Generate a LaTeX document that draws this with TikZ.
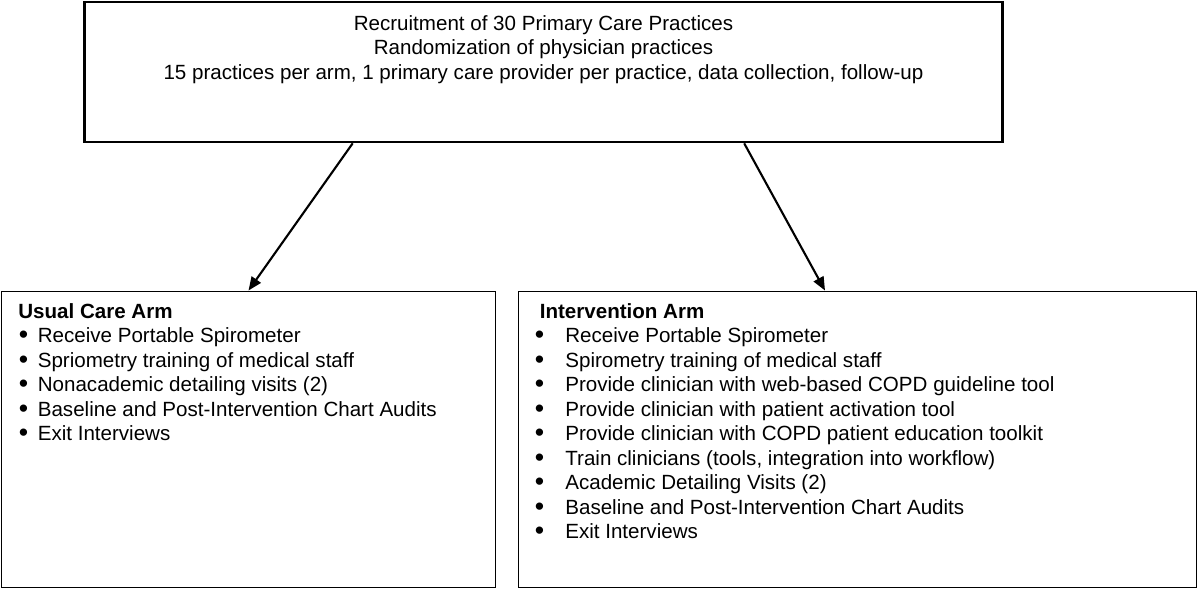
\documentclass[tikz,border=0pt]{standalone}
\usepackage{fontspec}
\setmainfont{Liberation Sans}
\usetikzlibrary{arrows.meta,calc}

\tikzset{
  box/.style={draw, line width=1.1pt, inner sep=0pt},
  txt/.style={anchor=base west, inner sep=0pt, font=\fontsize{11.7}{13.9}\selectfont},
  ctr/.style={anchor=base, inner sep=0pt, font=\fontsize{11.7}{13.9}\selectfont},
  arr/.style={-{Triangle[length=0.27cm,width=0.22cm]}, line width=1.2pt}
}
\newcommand{\blt}[1]{\makebox[#1][l]{\raisebox{-0.07em}{\scalebox{1.3}{\textbullet}}}}

\begin{document}
\begin{tikzpicture}
\useasboundingbox (0,0) rectangle (24,11.8);
%% boxes
\node[box, line width=1.5pt, minimum width=18.36cm, minimum height=2.8cm] (top) at (10.87,10.36) {};
\node[box, minimum width=9.88cm, minimum height=5.92cm] (usual) at (4.97,3.01) {};
\node[box, minimum width=13.56cm, minimum height=5.92cm] (interv) at (17.15,3.01) {};
%% top text
\node[ctr] (rec) at (10.87,11.19) {Recruitment of 30 Primary Care Practices};
\node[ctr] (rand) at (10.87,10.71) {Randomization of physician practices};
\node[ctr] (arms) at (10.87,10.21) {15 practices per arm, 1 primary care provider per practice, data collection, follow-up};
%% usual care arm
\node[txt, font=\fontsize{11.7}{13.9}\selectfont\bfseries] (U0) at (0.36,5.44) {Usual Care Arm};
\node[txt] (U1) at (0.37,4.95) {\blt{0.38cm}Receive Portable Spirometer};
\node[txt] (U2) at (0.37,4.46) {\blt{0.38cm}Spriometry training of medical staff};
\node[txt] (U3) at (0.37,3.97) {\blt{0.38cm}Nonacademic detailing visits (2)};
\node[txt] (U4) at (0.37,3.48) {\blt{0.38cm}Baseline and Post-Intervention Chart Audits};
\node[txt] (U5) at (0.37,2.99) {\blt{0.38cm}Exit Interviews};
%% intervention arm
\node[txt, font=\fontsize{11.7}{13.9}\selectfont\bfseries] (I0) at (10.79,5.44) {Intervention Arm};
\node[txt] (I1) at (10.69,4.95) {\blt{0.61cm}Receive Portable Spirometer};
\node[txt] (I2) at (10.69,4.46) {\blt{0.61cm}Spirometry training of medical staff};
\node[txt] (I3) at (10.69,3.97) {\blt{0.61cm}Provide clinician with web-based COPD guideline tool};
\node[txt] (I4) at (10.69,3.48) {\blt{0.61cm}Provide clinician with patient activation tool};
\node[txt] (I5) at (10.69,2.99) {\blt{0.61cm}Provide clinician with COPD patient education toolkit};
\node[txt] (I6) at (10.69,2.50) {\blt{0.61cm}Train clinicians (tools, integration into workflow)};
\node[txt] (I7) at (10.69,2.01) {\blt{0.61cm}Academic Detailing Visits (2)};
\node[txt] (I8) at (10.69,1.52) {\blt{0.61cm}Baseline and Post-Intervention Chart Audits};
\node[txt] (I9) at (10.69,1.03) {\blt{0.61cm}Exit Interviews};
%%% edges
\draw[arr] ($(top.south west)+(5.39,0)$) -- (usual.north);
\draw[arr] ($(top.south west)+(13.22,0)$) -- ($(interv.north)+(-0.65,0)$);
\end{tikzpicture}
\end{document}
